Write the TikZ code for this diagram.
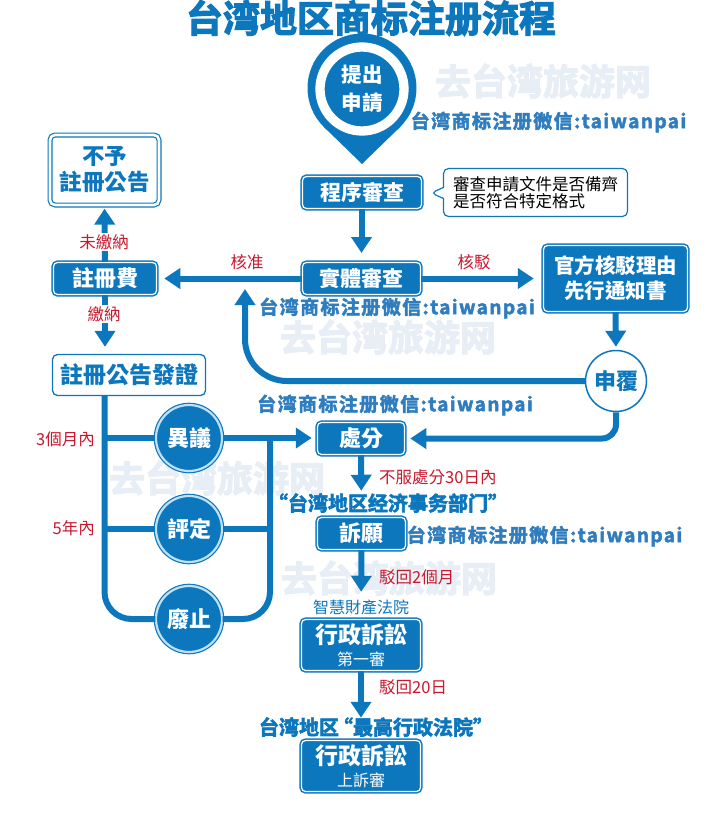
\documentclass[tikz,border=0pt]{standalone}
\usepackage{fontspec}
\setmainfont{Noto Sans CJK TC}
\newfontfamily\heavyfont[FakeBold=3.2]{Noto Sans CJK TC Bold}
\newfontfamily\wechatfont[FakeBold=2.6,LetterSpace=7.5]{Noto Sans CJK TC Bold}
\usetikzlibrary{arrows.meta,shapes.callouts}
\definecolor{flow}{HTML}{0C77BD}
\definecolor{markblue}{HTML}{2F7DBF}
\definecolor{ghost}{HTML}{E7EEF6}
\definecolor{ringblue}{HTML}{BFE0F5}
\definecolor{redlabel}{HTML}{C8182E}
\newcommand{\fs}[1]{\fontsize{#1}{#1}\selectfont}

\begin{document}
\begin{tikzpicture}
[
x=1pt, y=-1pt,
bluebox/.style={rectangle, rounded corners=4pt, draw=flow, line width=1.5pt, double=white, double distance=1.2pt, fill=flow, text=white, align=center, inner sep=0pt, font=\bfseries},
whitebox/.style={rectangle, rounded corners=5pt, draw=flow, fill=white, text=flow, align=center, inner sep=0pt, font=\bfseries},
bluering/.style={circle, draw=flow, line width=1.2pt, double=ringblue, double distance=2.2pt, fill=flow, text=white, align=center, inner sep=0pt, minimum size=66pt, font=\bfseries\fs{22}},
flowline/.style={draw=flow, line width=6pt},
flowarrow/.style={draw=flow, line width=6pt, -{Triangle[length=16pt,width=20pt]}},
redtag/.style={text=redlabel, font=\fs{16.5}, inner sep=1pt},
whitetag/.style={redtag, fill=white},
ghostmark/.style={text=ghost, font=\heavyfont\fs{36}, inner sep=0pt},
wechatmark/.style={text=markblue, font=\wechatfont\fs{19}, inner sep=0pt},
]
\useasboundingbox (0,0) rectangle (717,822);
%draw the pale marks
\node[ghostmark] (ghostA) at (543,81) {去台湾旅游网};
\node[ghostmark] (ghostB) at (388,337) {去台湾旅游网};
\node[ghostmark] (ghostC) at (217,478) {去台湾旅游网};
\node[ghostmark] (ghostD) at (389,578) {去台湾旅游网};
%draw the pin
\node[circle, fill=flow, minimum size=109pt, inner sep=0pt, outer sep=0pt] (pinhead) at (362,88) {};
\coordinate (pintip) at (362,164);
\fill[flow] (pinhead.-46) -- (pintip) -- (pinhead.226) -- cycle;
\node[circle, draw=white, line width=9.3pt, fill=flow, minimum size=84pt, inner sep=0pt, text=white, align=center, font=\bfseries\fs{20.5}] (apply) at (362,89) {提出\\[8pt]申請};
%draw the middle column
\node[bluebox, minimum width=119pt, minimum height=32pt, font=\bfseries\fs{21}] (formal) at (362,192.5) {程序審查};
\coordinate (calltip) at (431,193);
\node[rectangle callout, callout absolute pointer=(calltip), callout pointer width=11pt, rounded corners=5pt, draw=flow, line width=1.2pt, fill=white, minimum width=184pt, minimum height=48pt, inner sep=0pt, align=left, font=\fs{16.5}] (note) at (535.5,192.5) {\fontsize{16.5}{20}\selectfont 審查申請文件是否備齊\\是否符合特定格式};
\node[bluebox, minimum width=118pt, minimum height=32pt, font=\bfseries\fs{21}] (subst) at (361.5,278.5) {實體審查};
\node[bluebox, minimum width=144pt, minimum height=66pt, font=\bfseries\fs{20.5}] (refuse) at (615.5,278.5) {官方核駁理由\\[4.5pt]先行通知書};
\node[circle, draw=flow, line width=1.5pt, fill=white, text=flow, minimum size=61pt, inner sep=0pt, font=\bfseries\fs{22}] (review) at (616,381) {申覆};
\node[bluebox, minimum width=87pt, minimum height=32pt, font=\bfseries\fs{22}] (dispose) at (361,438.5) {處分};
\node[bluebox, minimum width=88pt, minimum height=32pt, font=\bfseries\fs{22}] (appeal) at (361.5,533.5) {訴願};
\node[bluebox, minimum width=119pt, minimum height=51pt, font=\bfseries\fs{23}] (courtA) at (361,645) {行政訴訟\\[-1pt]{\mdseries\fs{16}第一審}};
\node[bluebox, minimum width=119pt, minimum height=51pt, font=\bfseries\fs{23}] (courtB) at (361,766) {行政訴訟\\[-1pt]{\mdseries\fs{16}上訴審}};
%draw the left column
\node[whitebox, draw=flow, line width=1.2pt, double=white, double distance=2.6pt, minimum width=109pt, minimum height=70pt, font=\bfseries\fs{22.5}] (noreg) at (104.5,170) {不予\\[3.5pt]註冊公告};
\node[bluebox, minimum width=103pt, minimum height=32pt, font=\bfseries\fs{22}] (fee) at (105,278.5) {註冊費};
\node[whitebox, line width=1.3pt, minimum width=153pt, minimum height=41pt, font=\bfseries\fs{23}] (publish) at (129,375) {註冊公告發證};
\node[bluering] (oppose) at (189,438) {異議};
\node[bluering] (judge) at (189,529) {評定};
\node[bluering] (cancel) at (189,619) {廢止};
%draw the connectors
\coordinate (lefttop) at (104.5,396);
\coordinate (righttop) at (270,438);
\coordinate (backtip) at (245,289);
\coordinate (formaltip) at (361.5,253);
\draw[flowarrow] (formal.south -| formaltip) -- (formaltip);
\draw[flowarrow, shorten >=7pt] (subst.west) -- (fee.east);
\draw[flowarrow, shorten >=9pt] (subst.east) -- (refuse.west);
\draw[flowarrow, shorten >=3pt] (refuse.south) -- (review.north);
\draw[flowarrow, rounded corners=42pt] (review.west) -| (backtip);
\draw[flowarrow, rounded corners=14pt, shorten >=5pt] (review.south) |- (dispose.east);
\draw[flowarrow, shorten >=3pt] (fee.north) -- (noreg.south);
\draw[flowarrow, shorten >=7pt] (fee.south) -- (fee.south |- publish.north);
\draw[flowline, rounded corners=27pt] (lefttop) |- (cancel.west);
\draw[flowline] (oppose.west -| lefttop) -- (oppose.west);
\draw[flowline] (judge.west -| lefttop) -- (judge.west);
\draw[flowline, rounded corners=27pt] (cancel.east) -| (righttop);
\draw[flowline] (judge.east) -- (judge.east -| righttop);
\draw[flowarrow, shorten >=5pt] (oppose.east) -- (oppose.east -| dispose.west);
\draw[flowarrow, shorten >=26pt] (dispose.south) -- (appeal.north);
\draw[flowarrow, shorten >=27pt] (appeal.south) -- (courtA.north);
\draw[flowarrow, shorten >=22pt] (courtA.south) -- (courtB.north);
%draw the labels
\node[redtag] (okay) at (247,262) {核准};
\node[redtag] (reject) at (474,262) {核駁};
\node[whitetag] (unpaid) at (104,242) {未繳納};
\node[whitetag] (paid) at (104,314) {繳納};
\node[redtag, anchor=east] (three) at (96,439) {3個月內};
\node[redtag, anchor=east] (five) at (96,528) {5年內};
\node[redtag, anchor=west] (thirty) at (378,477) {不服處分30日內};
\node[redtag, anchor=west] (two) at (378,577) {駁回2個月};
\node[redtag, anchor=west] (twenty) at (378,687) {駁回20日};
\node[text=flow, font=\fs{16}, inner sep=0pt] (ipcourt) at (361,607) {智慧財產法院};
%draw the blue marks
\node[text=flow, font=\heavyfont\fs{37}, inner sep=0pt] (title) at (371,18) {台湾地区商标注册流程};
\node[wechatmark] (wechatA) at (548.5,122) {台湾商标注册微信:taiwanpai};
\node[wechatmark] (wechatB) at (397,308) {台湾商标注册微信:taiwanpai};
\node[wechatmark] (wechatC) at (395,405) {台湾商标注册微信:taiwanpai};
\node[wechatmark] (wechatD) at (544.5,536) {台湾商标注册微信:taiwanpai};
\node[text=flow, font=\heavyfont\fs{20}, inner sep=0pt] (ministry) at (388,503) {“台湾地区经济事务部门”};
\node[text=flow, font=\heavyfont\fs{20}, inner sep=0pt] (supreme) at (376,727) {台湾地区\hspace{-6pt}“最高行政法院”\hspace{-4pt}};
\end{tikzpicture}
\end{document}
